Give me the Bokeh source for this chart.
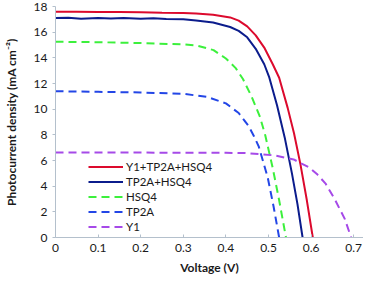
from bokeh.plotting import figure
from bokeh.models import Range1d, FixedTicker, Legend, LegendItem
from bokeh.embed import file_html
from bokeh.resources import INLINE

# ---- data ----
red_v = [0, 0.05, 0.1, 0.15, 0.2, 0.25, 0.3, 0.33, 0.37, 0.41, 0.43, 0.45, 0.47, 0.49,
         0.51, 0.525, 0.545, 0.56, 0.575, 0.59, 0.604]
red_j = [17.6, 17.6, 17.58, 17.57, 17.55, 17.52, 17.5, 17.45, 17.35, 17.15, 16.9, 16.45,
         15.75, 14.8, 13.5, 12.45, 10.1, 8.1, 5.7, 2.9, 0]

navy_v = [0, 0.03, 0.06, 0.1, 0.13, 0.16, 0.2, 0.23, 0.26, 0.3, 0.33, 0.37, 0.41, 0.43,
          0.45, 0.47, 0.49, 0.502, 0.52, 0.538, 0.555, 0.568, 0.58]
navy_j = [17.1, 17.12, 17.05, 17.1, 17.07, 17.1, 17.05, 17.08, 17.02, 17.0, 16.9, 16.75,
          16.4, 16.1, 15.6, 14.7, 13.5, 12.45, 10.3, 7.8, 5.0, 2.6, 0]

green_v = [0, 0.1, 0.2, 0.3, 0.333, 0.371, 0.4, 0.423, 0.44, 0.46, 0.48, 0.4925, 0.51,
           0.525, 0.541]
green_j = [15.25, 15.22, 15.15, 15.05, 14.95, 14.6, 13.95, 13.2, 12.35, 11.0, 9.4, 7.95,
           5.4, 2.9, 0]

blue_v = [0, 0.1, 0.2, 0.3, 0.356, 0.4, 0.43, 0.453, 0.465, 0.477, 0.498, 0.512, 0.525]
blue_j = [11.4, 11.35, 11.3, 11.2, 10.95, 10.45, 9.7, 8.7, 7.95, 7.1, 4.7, 2.4, 0]

purple_v = [0, 0.1, 0.2, 0.3, 0.4, 0.446, 0.514, 0.559, 0.596, 0.615, 0.634, 0.656,
            0.679, 0.694]
purple_j = [6.62, 6.62, 6.62, 6.6, 6.6, 6.58, 6.4, 6.08, 5.45, 4.9, 4.2, 2.95, 1.45, 0]

series_names = ["Y1+TP2A+HSQ4", "TP2A+HSQ4", "HSQ4", "TP2A", "Y1"]

x_ticks = [0, 0.1, 0.2, 0.3, 0.4, 0.5, 0.6, 0.7]
x_tick_labels = ["0", "0.1", "0.2", "0.3", "0.4", "0.5", "0.6", "0.7"]
y_ticks = [0, 2, 4, 6, 8, 10, 12, 14, 16, 18]

FONT = "Lato"
AXIS_COL = "#b4c0cc"

p = figure(width=363, height=279, output_backend="svg", toolbar_location=None,
           x_range=Range1d(0, 0.723), y_range=Range1d(0, 18),
           min_border_left=52, min_border_right=0, min_border_top=6,
           min_border_bottom=42)
p.outline_line_color = None
p.xgrid.visible = False
p.ygrid.visible = False
p.background_fill_color = "white"
p.border_fill_color = "white"

styles = [
    (red_v, red_j, "#dc0a2d", "solid"),
    (navy_v, navy_j, "#0b1c8c", "solid"),
    (green_v, green_j, "#3cf03c", "8 5"),
    (blue_v, blue_j, "#2346e6", "8 5"),
    (purple_v, purple_j, "#a64ae8", "8 5"),
]
renderers = []
for v, j, col, dash in styles:
    r = p.line(v, j, line_color=col, line_width=2, line_dash=dash)
    renderers.append(r)

# axes
for ax in (p.xaxis[0], p.yaxis[0]):
    ax.axis_line_color = AXIS_COL
    ax.major_tick_line_color = AXIS_COL
    ax.minor_tick_line_color = None
    ax.major_label_text_font = FONT
    ax.major_label_text_font_size = "12px"
    ax.major_label_text_color = "#1a1a1a"
    ax.axis_label_text_font = FONT
    ax.axis_label_text_font_size = "12px"
    ax.axis_label_text_font_style = "bold"
    ax.axis_label_text_color = "#1a1a1a"

p.xaxis.ticker = FixedTicker(ticks=x_ticks)
p.xaxis.major_label_overrides = {t: l for t, l in zip(x_ticks, x_tick_labels)}
p.xaxis.major_tick_in = 3
p.xaxis.major_tick_out = 0
p.xaxis.major_label_standoff = 6
p.xaxis.axis_label_standoff = 5
p.xaxis.axis_label = "Voltage (V)"

p.yaxis.ticker = FixedTicker(ticks=y_ticks)
p.yaxis.major_tick_in = 0
p.yaxis.major_tick_out = 3
p.yaxis.major_label_standoff = 5
p.yaxis.axis_label_standoff = 12
p.yaxis.axis_label = "Photocurrent density (mA cm\u207b\u00b2)"

legend = Legend(items=[LegendItem(label=n, renderers=[r]) for n, r in zip(series_names, renderers)],
                location=(33, 3))
legend.label_text_font = FONT
legend.label_text_font_size = "11.5px"
legend.label_text_color = "#1a1a1a"
legend.glyph_width = 35
legend.glyph_height = 15
legend.label_height = 15
legend.spacing = 0
legend.label_standoff = 3
legend.padding = 0
legend.margin = 0
legend.border_line_color = None
legend.background_fill_color = "white"
legend.background_fill_alpha = 1.0
p.add_layout(legend, "center")

open("out.html", "w").write(file_html(p, INLINE))
